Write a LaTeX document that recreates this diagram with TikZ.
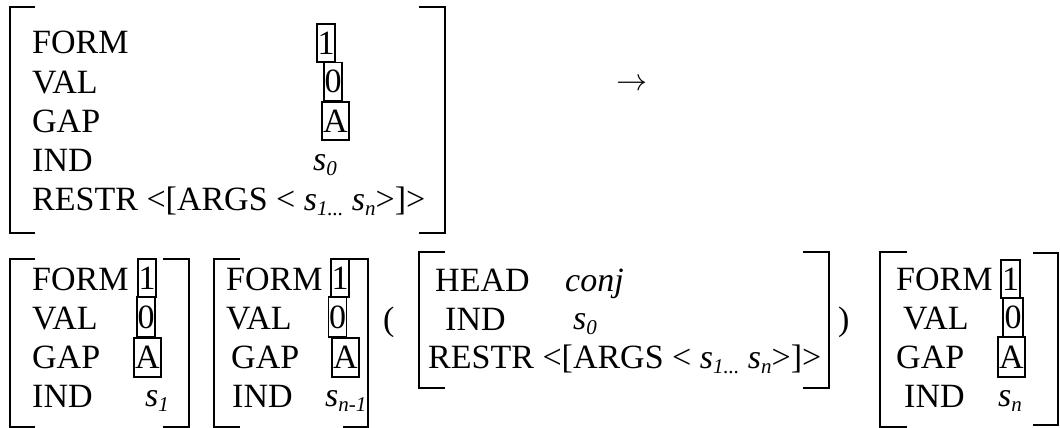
\documentclass[tikz,border=0pt]{standalone}
\usepackage{fontspec}
\setmainfont{Liberation Serif}
\newcommand{\mysb}[1]{\raisebox{-0.16em}{\fontsize{21}{21}\selectfont\itshape #1}}
\newcommand{\sv}[1]{{\itshape s\mysb{#1}}}
\tikzset{
  lbl/.style={anchor=base west, inner sep=0pt, font=\fontsize{34}{40}\selectfont},
  vbox/.style={draw, line width=1.9pt, inner sep=0pt, minimum width=18, minimum height=38, font=\fontsize{34}{40}\selectfont},
  brk/.style={line width=1.9pt},
}
\begin{document}
\begin{tikzpicture}[x=1pt,y=-1pt]
\useasboundingbox (0,0) rectangle (1060,428);
% ---------- top AVM ----------
\draw[brk] (35,7) -- (10,7) -- (10,233) -- (35,233);
\draw[brk] (419,7) -- (445,7) -- (445,233) -- (419,233);
\node[lbl] (tF) at (32,54) {FORM};
\node[lbl] (tV) at (32,93) {VAL};
\node[lbl] (tG) at (32,132) {GAP};
\node[lbl] (tI) at (32,171) {IND};
\node[lbl] (tR) at (32,210) {RESTR <[ARGS < \sv{1...} \sv{n}>]>};
\node[vbox] (tb1) at (326,43) {1};
\node[vbox] (tb0) at (333,81.5) {0};
\node[vbox, minimum width=27] (tbA) at (335.5,121) {A};
\node[lbl] (ts0) at (313,170) {\sv{0}};
\node[inner sep=0pt] (arr) at (632,85) {\scalebox{3.1}{$\rightarrow$}};
% ---------- bottom AVM 1 ----------
\draw[brk] (35,259) -- (10,259) -- (10,427) -- (35,427);
\draw[brk] (163,259) -- (189,259) -- (189,427) -- (163,427);
\node[lbl] (aF) at (32,290) {FORM};
\node[lbl] (aV) at (32,329) {VAL};
\node[lbl] (aG) at (32,368) {GAP};
\node[lbl] (aI) at (32,407) {IND};
\node[vbox] (ab1) at (147,278) {1};
\node[vbox, minimum height=40] (ab0) at (146,317) {0};
\node[vbox, minimum width=27, minimum height=39] (abA) at (147.5,357.5) {A};
\node[lbl] (as) at (145,406) {\sv{1}};
% ---------- bottom AVM 2 ----------
\draw[brk] (240,259) -- (214,259) -- (214,427) -- (240,427);
\draw[brk] (343,259) -- (368,259) -- (368,427) -- (343,427);
\node[lbl] (bF) at (226,290) {FORM};
\node[lbl] (bV) at (226,329) {VAL};
\node[lbl] (bG) at (231,368) {GAP};
\node[lbl] (bI) at (232,407) {IND};
\node[vbox] (bb1) at (340,278) {1};
\node[vbox, minimum height=40] (bb0) at (337.5,317) {0};
\node[vbox, minimum width=27, minimum height=39] (bbA) at (345.5,357.5) {A};
\node[lbl] (bs) at (325,406) {\sv{n-1}};
% ---------- conj AVM ----------
\node[lbl] (lp) at (383,330) {(};
\draw[brk] (445,252) -- (419,252) -- (419,388) -- (445,388);
\draw[brk] (803,252) -- (829,252) -- (829,388) -- (803,388);
\node[lbl] (cH) at (435,291) {HEAD};
\node[lbl] (cHv) at (565,291) {\itshape conj};
\node[lbl] (cI) at (445,330) {IND};
\node[lbl] (cIv) at (573,329) {\sv{0}};
\node[lbl] (cR) at (428,368) {RESTR <[ARGS < \sv{1...} \sv{n}>]>};
\node[lbl] (rp) at (838,330) {)};
% ---------- bottom AVM n ----------
\draw[brk] (907,252) -- (880,252) -- (880,427) -- (907,427);
\draw[brk] (1033,253) -- (1058,253) -- (1058,425) -- (1033,425);
\node[lbl] (dF) at (896,290) {FORM};
\node[lbl] (dV) at (903,329) {VAL};
\node[lbl] (dG) at (896,368) {GAP};
\node[lbl] (dI) at (904,407) {IND};
\node[vbox, minimum width=19] (db1) at (1010.5,279) {1};
\node[vbox, minimum width=20, minimum height=39] (db0) at (1013,317.5) {0};
\node[vbox, minimum width=27, minimum height=40] (dbA) at (1011.5,357) {A};
\node[lbl] (ds) at (998,406) {\sv{n}};
\end{tikzpicture}
\end{document}
